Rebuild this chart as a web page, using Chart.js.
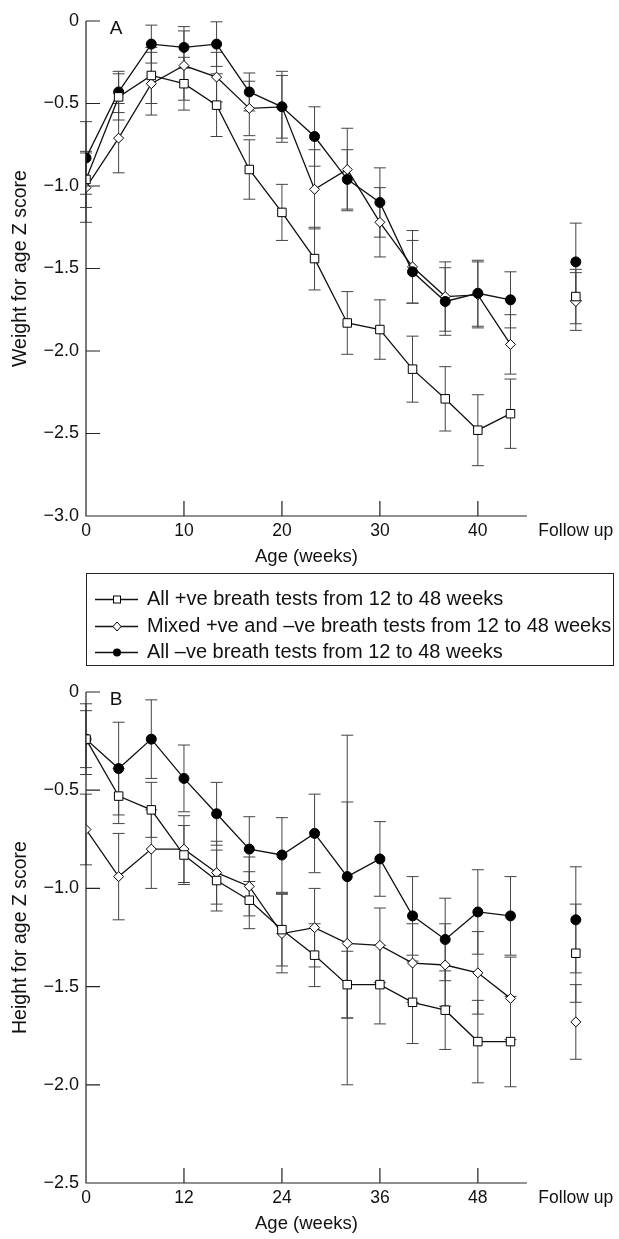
<!DOCTYPE html>
<html>
<head>
<meta charset="utf-8">
<title>Weight and height for age Z scores</title>
<script src="https://cdn.jsdelivr.net/npm/chart.js@4.4.0/dist/chart.umd.min.js"></script>
<style>
  body { margin: 0; background: #fff; font-family: "Liberation Sans", Arial, sans-serif; color: #111; }
  #page { position: relative; width: 619px; height: 1239px; overflow: hidden; }
  #wrapA { position: absolute; left: 0; top: 0; }
  #wrapB { position: absolute; left: 0; top: 666px; }
  #legend { position: absolute; left: 86px; top: 573px; width: 528px; height: 93px;
            box-sizing: border-box; border: 1px solid #222; padding-top: 11px; }
  .row { height: 26.5px; line-height: 26.5px; font-size: 20px; white-space: nowrap; }
  .row svg { vertical-align: middle; margin: 0 9px 0 8px; }
</style>
</head>
<body>
<div id="page">
  <div id="wrapA"><canvas id="chartA" width="619" height="575"></canvas></div>
  <div id="legend"></div>
  <div id="wrapB"><canvas id="chartB" width="619" height="573"></canvas></div>
</div>
<script>
// series names (legend order)
var seriesNames = [
  'All +ve breath tests from 12 to 48 weeks',
  'Mixed +ve and \u2013ve breath tests from 12 to 48 weeks',
  'All \u2013ve breath tests from 12 to 48 weeks'
];

// panel A - weight for age
var weeksA = [0, 3.33, 6.67, 10, 13.33, 16.67, 20, 23.33, 26.67, 30, 33.33, 36.67, 40, 43.33];
var followUpWeekA = 50;
var xTicksA = [0, 10, 20, 30, 40];
var weightPos   = [-0.96, -0.46, -0.33, -0.38, -0.51, -0.90, -1.16, -1.44, -1.83, -1.87, -2.11, -2.29, -2.48, -2.38];
var weightPosSE = [0.17, 0.14, 0.17, 0.16, 0.19, 0.18, 0.17, 0.19, 0.19, 0.18, 0.20, 0.195, 0.215, 0.21];
var weightMix   = [-1.01, -0.71, -0.38, -0.27, -0.34, -0.53, -0.52, -1.02, -0.90, -1.22, -1.49, -1.67, -1.66, -1.96];
var weightMixSE = [0.21, 0.21, 0.19, 0.21, 0.15, 0.165, 0.215, 0.24, 0.25, 0.21, 0.22, 0.21, 0.20, 0.18];
var weightNeg   = [-0.83, -0.43, -0.14, -0.16, -0.14, -0.43, -0.52, -0.70, -0.96, -1.10, -1.52, -1.70, -1.65, -1.69];
var weightNegSE = [0.22, 0.125, 0.115, 0.126, 0.135, 0.115, 0.19, 0.18, 0.18, 0.21, 0.19, 0.205, 0.20, 0.17];
var weightFU    = [-1.67, -1.70, -1.46];   // pos, mix, neg
var weightFUSE  = [0.165, 0.175, 0.235];

// panel B - height for age
var weeksB = [0, 4, 8, 12, 16, 20, 24, 28, 32, 36, 40, 44, 48, 52];
var followUpWeekB = 60;
var xTicksB = [0, 12, 24, 36, 48];
var heightPos   = [-0.24, -0.53, -0.60, -0.83, -0.96, -1.06, -1.21, -1.34, -1.49, -1.49, -1.58, -1.62, -1.78, -1.78];
var heightPosSE = [0.145, 0.14, 0.14, 0.15, 0.155, 0.145, 0.185, 0.16, 0.17, 0.20, 0.21, 0.20, 0.21, 0.23];
var heightMix   = [-0.70, -0.94, -0.80, -0.80, -0.92, -0.99, -1.23, -1.20, -1.28, -1.29, -1.38, -1.39, -1.43, -1.56];
var heightMixSE = [0.18, 0.22, 0.20, 0.17, 0.16, 0.15, 0.20, 0.20, 0.72, 0.19, 0.20, 0.21, 0.21, 0.21];
var heightNeg   = [-0.24, -0.39, -0.24, -0.44, -0.62, -0.80, -0.83, -0.72, -0.94, -0.85, -1.14, -1.26, -1.12, -1.14];
var heightNegSE = [0.18, 0.236, 0.20, 0.17, 0.16, 0.165, 0.19, 0.20, 0.72, 0.19, 0.20, 0.21, 0.215, 0.20];
var heightFU    = [-1.33, -1.68, -1.16];
var heightFUSE  = [0.25, 0.19, 0.27];

var FONT = '"Liberation Sans", Arial, sans-serif';

// order: lower is drawn on top (squares, then circles, then diamonds)
var markerStyles = [
  { pointStyle: 'rect',    radius: 6, fill: '#fff', order: 0 },
  { pointStyle: 'rectRot', radius: 5, fill: '#fff', order: 2 },
  { pointStyle: 'circle',  radius: 5, fill: '#000', order: 1 }
];

function toPoints(weeks, vals, se) {
  return weeks.map(function (w, i) { return { x: w, y: vals[i], se: se[i] }; });
}

function buildDatasets(weeks, fuWeek, lists, fu, fuSE) {
  var sets = [];
  lists.forEach(function (l, i) {
    var m = markerStyles[i];
    var common = {
      order: m.order,
      pointStyle: m.pointStyle, pointRadius: m.radius, pointBackgroundColor: m.fill,
      pointBorderColor: '#000', pointBorderWidth: 1, borderColor: '#111', borderWidth: 1.3
    };
    sets.push(Object.assign({ label: seriesNames[i], data: toPoints(weeks, l[0], l[1]) }, common));
    sets.push(Object.assign({ label: seriesNames[i] + ' (follow up)', showLine: false,
      data: [{ x: fuWeek, y: fu[i], se: fuSE[i] }] }, common));
  });
  return sets;
}

function fmtY(v) {
  if (Math.abs(v) < 1e-9) return '0';
  return (v < 0 ? '\u2212' : '') + Math.abs(v).toFixed(1);
}

var axisPlugin = {
  id: 'axisPlugin',
  beforeDatasetsDraw: function (chart) {
    // error bars (mean +/- SE) under the lines and markers
    var ctx = chart.ctx, ys = chart.scales.y;
    ctx.save();
    ctx.strokeStyle = '#444';
    ctx.lineWidth = 1;
    chart.data.datasets.forEach(function (ds, di) {
      var meta = chart.getDatasetMeta(di);
      ds.data.forEach(function (p, i) {
        var el = meta.data[i];
        var top = ys.getPixelForValue(p.y + p.se), bot = ys.getPixelForValue(p.y - p.se);
        ctx.beginPath();
        ctx.moveTo(el.x, top); ctx.lineTo(el.x, bot);
        ctx.moveTo(el.x - 6, top); ctx.lineTo(el.x + 6, top);
        ctx.moveTo(el.x - 6, bot); ctx.lineTo(el.x + 6, bot);
        ctx.stroke();
      });
    });
    ctx.restore();
  },
  afterDraw: function (chart, args, opts) {
    var ctx = chart.ctx, xs = chart.scales.x, ys = chart.scales.y;
    var x0 = xs.getPixelForValue(0), x1 = xs.getPixelForValue(opts.axisEnd);
    var yb = ys.getPixelForValue(ys.min), yt = ys.getPixelForValue(ys.max);
    ctx.save();
    ctx.strokeStyle = '#222';
    ctx.lineWidth = 1.2;
    ctx.beginPath();
    ctx.moveTo(x0, yt); ctx.lineTo(x0, yb); ctx.lineTo(x1, yb);
    // inward tick marks
    opts.xTicks.forEach(function (v) {
      if (v === 0) return;
      var px = xs.getPixelForValue(v);
      ctx.moveTo(px, yb); ctx.lineTo(px, yb - 15);
    });
    ys.ticks.forEach(function (t) {
      var py = ys.getPixelForValue(t.value);
      ctx.moveTo(x0, py); ctx.lineTo(x0 + 14, py);
    });
    ctx.stroke();
    ctx.fillStyle = '#111';
    ctx.textAlign = 'center';
    ctx.textBaseline = 'middle';
    ctx.font = '18.5px ' + FONT;
    ctx.fillText('Age (weeks)', (x0 + x1) / 2, yb + 41);
    ctx.font = '19px ' + FONT;
    ctx.fillText(opts.letter, x0 + 30, yt + 8);
    ctx.restore();
  }
};

function makeChart(id, cfg) {
  return new Chart(document.getElementById(id), {
    type: 'line',
    data: { datasets: cfg.datasets },
    plugins: [axisPlugin],
    options: {
      responsive: false,
      animation: false,
      layout: { padding: { top: cfg.padTop, right: 19, left: 0, bottom: 0 } },
      plugins: {
        legend: { display: false },
        tooltip: { enabled: false },
        axisPlugin: { axisEnd: cfg.axisEnd, xTicks: cfg.xTicks, letter: cfg.letter }
      },
      scales: {
        x: {
          type: 'linear', min: 0, max: cfg.xMax,
          grid: { display: false, drawTicks: false }, border: { display: false },
          afterBuildTicks: function (s) {
            s.ticks = cfg.xTicks.concat([cfg.fuWeek]).map(function (v) { return { value: v }; });
          },
          afterFit: function (s) { s.height = cfg.xHeight; },
          ticks: {
            padding: 5, color: '#111', maxRotation: 0, autoSkip: false,
            font: { size: 17.5, family: FONT },
            callback: function (v) { return v === cfg.fuWeek ? 'Follow up' : v; }
          }
        },
        y: {
          min: cfg.yMin, max: 0,
          grid: { display: false, drawTicks: false }, border: { display: false },
          afterFit: function (s) { s.width = 86; },
          title: {
            display: true, text: cfg.yTitle, color: '#111', padding: { top: 9, bottom: 0 },
            font: { size: 19.5, family: FONT }
          },
          ticks: {
            stepSize: 0.5, padding: 7, color: '#111',
            font: { size: 18, family: FONT },
            callback: fmtY
          }
        }
      }
    }
  });
}

makeChart('chartA', {
  datasets: buildDatasets(weeksA, followUpWeekA,
    [[weightPos, weightPosSE], [weightMix, weightMixSE], [weightNeg, weightNegSE]], weightFU, weightFUSE),
  padTop: 21, xMax: 52, axisEnd: 45, xHeight: 59, yMin: -3, xTicks: xTicksA, fuWeek: followUpWeekA,
  letter: 'A', yTitle: 'Weight for age Z score'
});

makeChart('chartB', {
  datasets: buildDatasets(weeksB, followUpWeekB,
    [[heightPos, heightPosSE], [heightMix, heightMixSE], [heightNeg, heightNegSE]], heightFU, heightFUSE),
  padTop: 26, xMax: 62.4, axisEnd: 54, xHeight: 56, yMin: -2.5, xTicks: xTicksB, fuWeek: followUpWeekB,
  letter: 'B', yTitle: 'Height for age Z score'
});

// legend
var legend = document.getElementById('legend');
seriesNames.forEach(function (name, i) {
  var m = markerStyles[i];
  var mk;
  if (m.pointStyle === 'rect') mk = '<rect x="18.5" y="4" width="7" height="7" fill="#fff" stroke="#000"/>';
  else if (m.pointStyle === 'rectRot') mk = '<polygon points="22,3 26,7.5 22,12 18,7.5" fill="#fff" stroke="#000"/>';
  else mk = '<circle cx="22" cy="7.5" r="4" fill="#000"/>';
  var row = document.createElement('div');
  row.className = 'row';
  row.innerHTML = '<svg width="43" height="15"><line x1="0" y1="7.5" x2="43" y2="7.5" stroke="#111" stroke-width="1.3"/>' +
    mk + '</svg><span>' + name + '</span>';
  legend.appendChild(row);
});
</script>
</body>
</html>
